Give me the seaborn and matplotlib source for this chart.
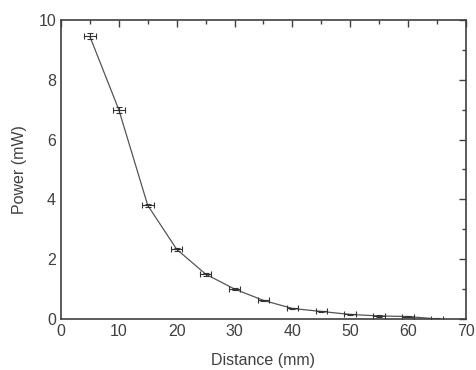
import matplotlib
matplotlib.use("Agg")
import matplotlib.pyplot as plt
import seaborn as sns
import numpy as np
import pandas as pd
from matplotlib.ticker import MultipleLocator

distance = [5, 10, 15, 20, 25, 30, 35, 40, 45, 50, 55, 60, 65]
power = [9.45, 7.0, 3.8, 2.33, 1.5, 1.0, 0.62, 0.35, 0.25, 0.15, 0.1, 0.08, 0.0]
dist_err = [1.0] * len(distance)
power_err = [0.1, 0.1, 0.05, 0.05, 0.05, 0.03, 0.03, 0.03, 0.02, 0.02, 0.02, 0.02, 0.02]

df = pd.DataFrame({'Distance': distance, 'Power': power})

sns.set_style('white')
plt.rcParams['font.family'] = ['Liberation Sans', 'DejaVu Sans']
grey = '#404040'

fig = plt.figure(figsize=(4.76, 3.70), dpi=100)
ax = fig.add_axes([0.128, 0.138, 0.851, 0.808])

sns.lineplot(data=df, x='Distance', y='Power', color='#555555', linewidth=0.9, ax=ax)
ax.errorbar(distance, power, xerr=dist_err, yerr=power_err, fmt='none',
            ecolor='#333333', elinewidth=0.8, capsize=2.5, capthick=0.8)

ax.set_xlim(0, 70)
ax.set_ylim(0, 10)
ax.xaxis.set_major_locator(MultipleLocator(10))
ax.xaxis.set_minor_locator(MultipleLocator(5))
ax.yaxis.set_major_locator(MultipleLocator(2))
ax.yaxis.set_minor_locator(MultipleLocator(1))
ax.tick_params(which='both', direction='in', top=True, right=True, color=grey,
               labelcolor=grey, labelsize=11.5, width=1)
ax.tick_params(which='major', length=5)
ax.tick_params(which='minor', length=3)
for s in ax.spines.values():
    s.set_color(grey)
    s.set_linewidth(1.2)

ax.set_xlabel('Distance (mm)', color=grey, fontsize=11.5, labelpad=10)
ax.set_ylabel('Power (mW)', color=grey, fontsize=11.5, labelpad=8)

fig.savefig('out.png', dpi=100)
